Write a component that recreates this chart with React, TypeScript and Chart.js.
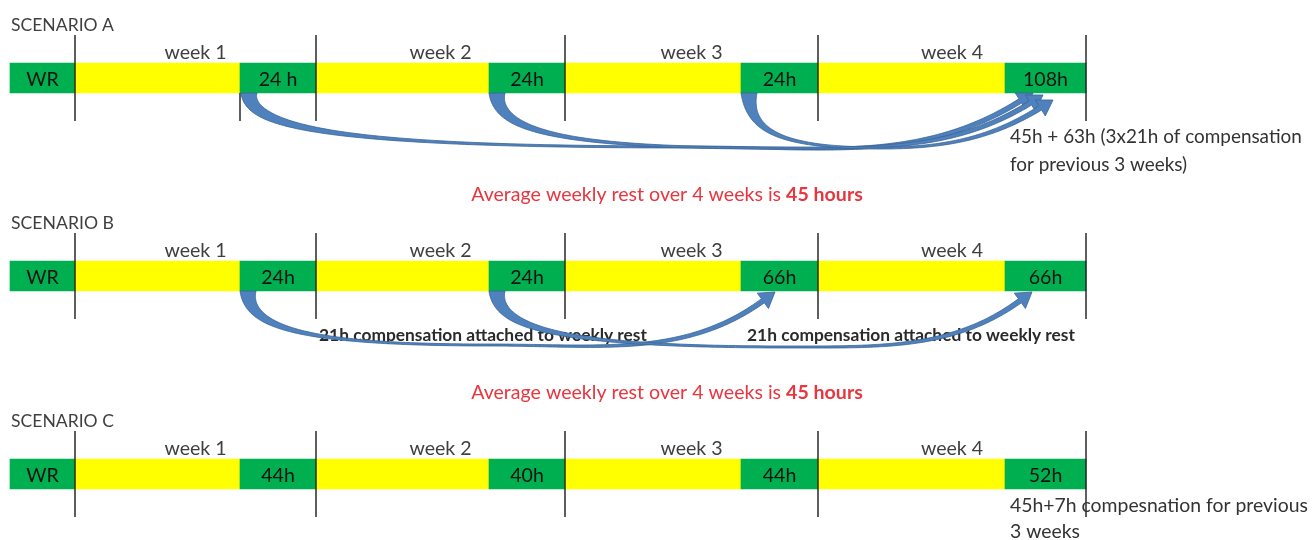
import React, { useEffect, useRef } from 'react';
import { Chart, registerables } from 'chart.js';

Chart.register(...registerables);

// ---------- data ----------
const scenarioNames = ['SCENARIO A', 'SCENARIO B', 'SCENARIO C'];
const rowCenters = [78, 276, 474];
const segmentEdges = [10, 75, 240, 316, 489, 565, 741, 818, 1005, 1086];
const segmentTypes = ['rest', 'work', 'rest', 'work', 'rest', 'work', 'rest', 'work', 'rest'];
const weekNames = ['week 1', 'week 2', 'week 3', 'week 4'];
const weekEdges = [75, 316, 565, 818, 1086];
const restLabelsA = ['WR', '24 h', '24h', '24h', '108h'];
const restLabelsB = ['WR', '24h', '24h', '66h', '66h'];
const restLabelsC = ['WR', '44h', '40h', '44h', '52h'];
const extraTicksA = [240];

const arrowFromA = [241, 489, 741];
const arrowDipXA = [690, 770, 880];
const arrowDipYA = [147, 148, 148];
const arrowTipXA = [1033, 1043, 1053];
const arrowTipYA = [93, 95, 100];

const arrowFromB = [240, 489];
const arrowDipXB = [490, 790];
const arrowDipYB = [345, 347];
const arrowTipXB = [775, 1032];
const arrowTipYB = [292, 292];

const averageText = ['Average weekly rest over 4 weeks is ', '45 hours'];
const noteA = ['45h + 63h (3x21h of compensation', 'for previous 3 weeks)'];
const noteB = '21h compensation attached to weekly rest';
const noteC = ['45h+7h compesnation for previous', '3 weeks'];

const GREEN = '#00B050';
const YELLOW = '#FFFF00';
const BAR = 30;
const FONT = 'Lato, "Open Sans", sans-serif';

type P = { x: number; y: number };

function bez(p0: P, p1: P, p2: P, p3: P, t: number): P {
  const u = 1 - t;
  return {
    x: u * u * u * p0.x + 3 * u * u * t * p1.x + 3 * u * t * t * p2.x + t * t * t * p3.x,
    y: u * u * u * p0.y + 3 * u * u * t * p1.y + 3 * u * t * t * p2.y + t * t * t * p3.y,
  };
}
function der(p0: P, p1: P, p2: P, p3: P, t: number): P {
  const u = 1 - t;
  return {
    x: 3 * u * u * (p1.x - p0.x) + 6 * u * t * (p2.x - p1.x) + 3 * t * t * (p3.x - p2.x),
    y: 3 * u * u * (p1.y - p0.y) + 6 * u * t * (p2.y - p1.y) + 3 * t * t * (p3.y - p2.y),
  };
}

function drawArrow(ctx: CanvasRenderingContext2D, S: P, B: P, T: P, angleDeg: number, w0: number) {
  const ang = (angleDeg * Math.PI) / 180;
  const dir = { x: Math.cos(ang), y: -Math.sin(ang) };
  const headLen = 15;
  const headHalf = 9.5;
  const N = { x: T.x - dir.x * headLen, y: T.y - dir.y * headLen };
  const c1 = { x: S.x, y: S.y + (B.y - S.y) * 0.7 };
  const c2 = { x: S.x + (B.x - S.x) * 0.25, y: B.y };
  const dBN = Math.hypot(N.x - B.x, N.y - B.y);
  const c3 = { x: B.x + (N.x - B.x) * 0.4, y: B.y };
  const c4 = { x: N.x - dir.x * dBN * 0.35, y: N.y - dir.y * dBN * 0.35 };
  const left: P[] = [];
  const right: P[] = [];
  const n = 80;
  const push = (p: P, d: P, w: number) => {
    const len = Math.hypot(d.x, d.y) || 1;
    const nx = -d.y / len;
    const ny = d.x / len;
    left.push({ x: p.x + (nx * w) / 2, y: p.y + (ny * w) / 2 });
    right.push({ x: p.x - (nx * w) / 2, y: p.y - (ny * w) / 2 });
  };
  for (let i = 0; i <= n; i++) {
    const t = i / n;
    const w = 2.0 + (w0 - 2.0) * Math.pow(1 - t, 2.8);
    push(bez(S, c1, c2, B, t), der(S, c1, c2, B, t), w);
  }
  for (let i = 1; i <= n; i++) {
    const t = i / n;
    const w = 2.0 + 3.0 * Math.pow(t, 1.6);
    push(bez(B, c3, c4, N, t), der(B, c3, c4, N, t), w);
  }
  const nrm = { x: -dir.y, y: dir.x };
  ctx.beginPath();
  ctx.moveTo(left[0].x, left[0].y);
  for (let i = 1; i < left.length; i++) ctx.lineTo(left[i].x, left[i].y);
  ctx.lineTo(N.x + nrm.x * headHalf, N.y + nrm.y * headHalf);
  ctx.lineTo(T.x, T.y);
  ctx.lineTo(N.x - nrm.x * headHalf, N.y - nrm.y * headHalf);
  for (let i = right.length - 1; i >= 0; i--) ctx.lineTo(right[i].x, right[i].y);
  ctx.closePath();
  ctx.fillStyle = '#4F81BD';
  ctx.fill();
  ctx.strokeStyle = '#3A6596';
  ctx.lineWidth = 0.8;
  ctx.stroke();
}

function fitSize(ctx: CanvasRenderingContext2D, parts: [string, string][], target: number) {
  let w = 0;
  for (const [txt, weight] of parts) {
    ctx.font = `${weight} 100px ${FONT}`;
    w += ctx.measureText(txt).width;
  }
  return (100 * target) / w;
}

const diagramPlugin = {
  id: 'diagram',
  afterDatasetsDraw(chart: any) {
    const ctx: CanvasRenderingContext2D = chart.ctx;
    const xs = chart.scales.x;
    const ys = chart.scales.y;
    const X = (v: number) => xs.getPixelForValue(v);
    const Y = (v: number) => ys.getPixelForValue(v);
    ctx.save();

    // vertical week lines
    ctx.strokeStyle = '#1a1a1a';
    ctx.lineWidth = 1.4;
    rowCenters.forEach((rc, r) => {
      const top = Y(rc) - 43;
      const bot = Y(rc) + 43;
      weekEdges.forEach((e) => {
        ctx.beginPath();
        ctx.moveTo(X(e), top);
        ctx.lineTo(X(e), bot);
        ctx.stroke();
      });
      if (r === 0) {
        extraTicksA.forEach((e) => {
          ctx.beginPath();
          ctx.moveTo(X(e), Y(rc) + BAR / 2);
          ctx.lineTo(X(e), bot);
          ctx.stroke();
        });
      }
    });

    const baseSize = fitSize(ctx, [[averageText[0], '400'], [averageText[1], '700']], 392);
    const labelSize = baseSize;

    // scenario names, week names, rest labels
    const restLabels = [restLabelsA, restLabelsB, restLabelsC];
    rowCenters.forEach((rc, r) => {
      const cy = Y(rc);
      ctx.textBaseline = 'alphabetic';
      ctx.fillStyle = '#3f3f3f';
      const sSize = fitSize(ctx, [[scenarioNames[r], '400']], 103);
      ctx.font = `400 ${sSize}px ${FONT}`;
      ctx.textAlign = 'left';
      ctx.fillText(scenarioNames[r], X(segmentEdges[0]) + 1, cy - 47);

      ctx.font = `400 ${labelSize}px ${FONT}`;
      ctx.textAlign = 'center';
      weekNames.forEach((wn, i) => {
        ctx.fillText(wn, (X(weekEdges[i]) + X(weekEdges[i + 1])) / 2, cy - 19);
      });
      ctx.fillStyle = '#111';
      let k = 0;
      segmentTypes.forEach((t, i) => {
        if (t !== 'rest') return;
        const lbl = restLabels[r][k++];
        ctx.fillText(lbl, (X(segmentEdges[i]) + X(segmentEdges[i + 1])) / 2, cy + 8);
      });
    });

    // red average lines
    [0, 1].forEach((r) => {
      const by = Y(rowCenters[r]) + 123;
      ctx.font = `400 ${baseSize}px ${FONT}`;
      const w1 = ctx.measureText(averageText[0]).width;
      ctx.font = `700 ${baseSize}px ${FONT}`;
      const w2 = ctx.measureText(averageText[1]).width;
      const x0 = X(667) - (w1 + w2) / 2;
      ctx.textAlign = 'left';
      ctx.fillStyle = '#E8363F';
      ctx.font = `400 ${baseSize}px ${FONT}`;
      ctx.fillText(averageText[0], x0, by);
      ctx.font = `700 ${baseSize}px ${FONT}`;
      ctx.fillText(averageText[1], x0 + w1, by);
    });

    // notes A and C
    ctx.fillStyle = '#333';
    ctx.textAlign = 'left';
    const nA = fitSize(ctx, [[noteA[0], '400']], 292);
    ctx.font = `400 ${nA}px ${FONT}`;
    ctx.fillText(noteA[0], X(segmentEdges[8]) + 5, Y(rowCenters[0]) + 65);
    ctx.fillText(noteA[1], X(segmentEdges[8]) + 5, Y(rowCenters[0]) + 93);
    const nC = fitSize(ctx, [[noteC[0], '400']], 298);
    ctx.font = `400 ${nC}px ${FONT}`;
    ctx.fillText(noteC[0], X(segmentEdges[8]) + 5, Y(rowCenters[2]) + 38);
    ctx.fillText(noteC[1], X(segmentEdges[8]) + 5, Y(rowCenters[2]) + 64);

    // notes B
    const nB = fitSize(ctx, [[noteB, '700']], 328);
    ctx.font = `700 ${nB}px ${FONT}`;
    ctx.fillStyle = '#2a2a2a';
    ctx.textAlign = 'center';
    ctx.fillText(noteB, X(483), Y(rowCenters[1]) + 65);
    ctx.fillText(noteB, X(911), Y(rowCenters[1]) + 65);

    // arrows
    const w0 = 16;
    const drawSet = (r: number, from: number[], dx: number[], dy: number[], tx: number[], ty: number[], ang: number) => {
      const startY = Y(rowCenters[r]) + BAR / 2;
      from.forEach((f, i) => {
        drawArrow(
          ctx,
          { x: X(f) + w0 / 2, y: startY },
          { x: X(dx[i]), y: Y(dy[i]) },
          { x: X(tx[i]), y: Y(ty[i]) },
          ang,
          w0
        );
      });
    };
    drawSet(0, arrowFromA, arrowDipXA, arrowDipYA, arrowTipXA, arrowTipYA, 32);
    drawSet(1, arrowFromB, arrowDipXB, arrowDipYB, arrowTipXB, arrowTipYB, 36);

    ctx.restore();
  },
};

export default function App() {
  const ref = useRef<HTMLCanvasElement | null>(null);
  useEffect(() => {
    document.body.style.margin = '0';
    if (!ref.current) return;
    const segs: any[] = [];
    const colors: string[] = [];
    rowCenters.forEach((rc) => {
      segmentTypes.forEach((t, i) => {
        segs.push({ x: [segmentEdges[i], segmentEdges[i + 1]], y: rc });
        colors.push(t === 'rest' ? GREEN : YELLOW);
      });
    });
    const chart = new Chart(ref.current, {
      type: 'bar',
      data: {
        datasets: [
          {
            data: segs,
            backgroundColor: colors,
            borderWidth: 0,
            barThickness: BAR,
          } as any,
        ],
      },
      options: {
        indexAxis: 'y',
        animation: false,
        responsive: true,
        maintainAspectRatio: false,
        events: [],
        layout: { padding: 0 },
        plugins: {
          legend: { display: false },
          tooltip: { enabled: false },
          title: { display: false },
        },
        scales: {
          x: { type: 'linear', min: 0, max: 1313, display: false },
          y: { type: 'linear', min: 0, max: 540, reverse: true, display: false, offset: false },
        },
      } as any,
      plugins: [diagramPlugin],
    });
    return () => chart.destroy();
  }, []);
  return (
    <div style={{ position: 'absolute', left: 0, top: 0, width: 1313, height: 540, background: '#fff' }}>
      <canvas ref={ref} />
    </div>
  );
}
